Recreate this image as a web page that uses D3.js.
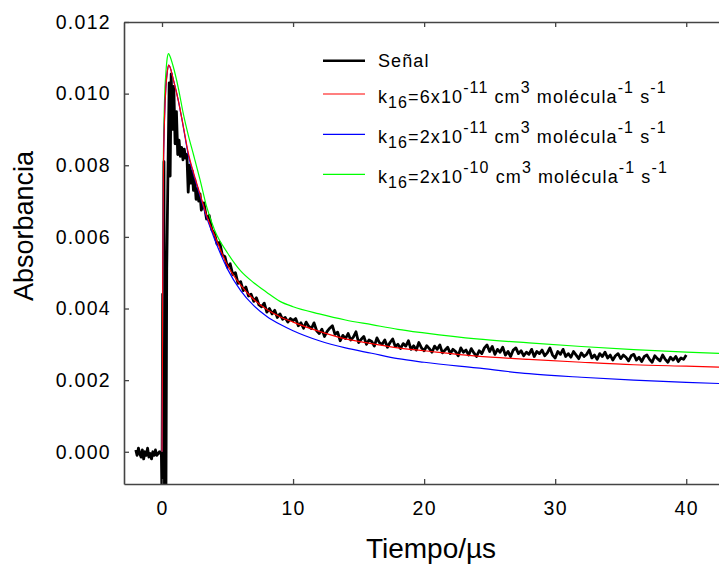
<!DOCTYPE html>
<html>
<head>
<meta charset="utf-8">
<script src="https://cdn.jsdelivr.net/npm/d3@7"></script>
<style>
  html, body { margin: 0; padding: 0; background: #fff; }
  svg { display: block; }
  text { font-family: "Liberation Sans", Arial, sans-serif; fill: #000; }
</style>
</head>
<body>
<svg id="chart" width="719" height="565"></svg>
<script>
// ---------- DATA (absorbance in units of 10^-3) ----------
const xTicks = [0, 10, 20, 30, 40];
const yTicks = [0, 2, 4, 6, 8, 10, 12];
const yTickLabels = ["0.000", "0.002", "0.004", "0.006", "0.008", "0.010", "0.012"];

// measured signal: [time/us, absorbance x1000]
const signal = [
  [-2.0,0.05],[-1.9,-0.1],[-1.8,0.1],[-1.7,-0.05],[-1.6,-0.15],[-1.5,0.05],[-1.4,-0.2],[-1.3,0.0],[-1.2,-0.1],[-1.1,0.1],
  [-1.0,-0.15],[-0.9,-0.05],[-0.8,-0.2],[-0.7,0.0],[-0.6,-0.1],[-0.5,0.05],[-0.4,-0.1],[-0.3,-0.05],[-0.2,0.0],[-0.1,-0.05],
  [-0.05,0.0],[0.0,-1.3],[0.05,4.4],[0.1,-1.2],[0.15,8.1],[0.2,-1.3],[0.25,1.7],[0.3,-1.3],[0.36,5.1],[0.45,7.7],[0.55,10.3],[0.62,7.7],[0.7,10.55],
  [0.8,9.0],[0.9,10.2],[1.0,8.6],[1.1,9.5],[1.2,8.3],[1.3,8.7],[1.4,8.25],[1.5,8.5],[1.6,8.15],[1.7,8.45],
  [1.8,8.2],[1.9,8.3],[2.0,7.25],[2.1,8.0],[2.2,7.5],[2.3,7.85],[2.4,7.3],[2.5,7.6],[2.6,7.05],[2.7,7.35],
  [2.8,7.0],[2.9,7.2],[3.0,6.75],[3.2,6.95],[3.4,6.5],[3.6,6.6],[3.8,6.2],
  [4.0,6.1],[4.2,5.8],[4.4,5.85],[4.6,5.5],[4.8,5.45],
  [5.0,5.15],[5.2,5.25],[5.4,4.95],[5.6,5.0],[5.8,4.7],
  [6.0,4.75],[6.2,4.5],[6.4,4.6],[6.6,4.35],[6.8,4.4],
  [7.0,4.2],[7.2,4.3],[7.4,4.1],[7.6,4.05],[7.8,4.15],
  [8.0,3.9],[8.2,4.0],[8.4,3.85],[8.6,3.95],[8.8,3.75],
  [9.0,3.85],[9.2,3.7],[9.4,3.75],[9.6,3.62],[9.8,3.72],
  [10.0,3.66],[10.2,3.72],[10.4,3.52],[10.6,3.6],[10.8,3.45],
  [11.0,3.62],[11.2,3.5],[11.4,3.44],[11.6,3.6],[11.8,3.38],
  [12.0,3.3],[12.2,3.42],[12.4,3.22],[12.6,3.36],[12.8,3.45],
  [13.0,3.52],[13.2,3.28],[13.4,3.34],[13.6,3.1],[13.8,3.25],
  [14.0,3.16],[14.2,3.3],[14.4,3.12],[14.6,3.2],[14.8,3.35],
  [15.0,3.05],[15.2,3.14],[15.4,3.22],[15.6,3.0],[15.8,3.12],
  [16.0,3.08],[16.2,2.95],[16.4,3.18],[16.6,3.04],[16.8,3.0],
  [17.0,3.12],[17.2,2.92],[17.4,3.05],[17.6,3.15],[17.8,2.94],
  [18.0,3.0],[18.2,2.88],[18.4,3.02],[18.6,2.95],[18.8,3.1],
  [19.0,2.86],[19.2,2.96],[19.4,2.84],[19.6,3.05],[19.8,2.9],
  [20.0,2.82],[20.2,2.96],[20.4,2.88],[20.6,2.78],[20.8,2.95],
  [21.0,2.86],[21.2,2.98],[21.4,2.76],[21.6,2.84],[21.8,2.92],
  [22.0,2.74],[22.2,2.86],[22.4,2.8],[22.6,2.68],[22.8,2.9],
  [23.0,2.78],[23.2,2.84],[23.4,2.7],[23.6,2.88],[23.8,2.76],
  [24.0,2.66],[24.2,2.82],[24.4,2.74],[24.6,2.9],[24.8,2.98],
  [25.0,2.8],[25.2,2.94],[25.4,2.72],[25.6,2.86],[25.8,2.78],
  [26.0,2.92],[26.2,2.7],[26.4,2.8],[26.6,2.66],[26.8,2.84],
  [27.0,2.9],[27.2,2.74],[27.4,2.82],[27.6,2.68],[27.8,2.78],
  [28.0,2.72],[28.2,2.86],[28.4,2.66],[28.6,2.8],[28.8,2.74],
  [29.0,2.84],[29.2,2.68],[29.4,2.76],[29.6,2.9],[29.8,2.7],
  [30.0,2.62],[30.2,2.8],[30.4,2.72],[30.6,2.86],[30.8,2.66],
  [31.0,2.74],[31.2,2.64],[31.4,2.8],[31.6,2.7],[31.8,2.6],
  [32.0,2.76],[32.2,2.66],[32.4,2.72],[32.6,2.84],[32.8,2.62],
  [33.0,2.7],[33.2,2.58],[33.4,2.74],[33.6,2.66],[33.8,2.78],
  [34.0,2.62],[34.2,2.7],[34.4,2.56],[34.6,2.68],[34.8,2.74],
  [35.0,2.6],[35.2,2.7],[35.4,2.64],[35.6,2.54],[35.8,2.68],
  [36.0,2.72],[36.2,2.56],[36.4,2.64],[36.6,2.52],[36.8,2.66],
  [37.0,2.7],[37.2,2.58],[37.4,2.5],[37.6,2.68],[37.8,2.6],
  [38.0,2.54],[38.2,2.7],[38.4,2.58],[38.6,2.5],[38.8,2.64],
  [39.0,2.56],[39.2,2.66],[39.4,2.52],[39.6,2.62],[39.8,2.58],
  [40.0,2.7]
];

// simulated curves
const modelTime = [0,0.05,0.1,0.2,0.3,0.4,0.5,0.6,0.86,1.25,1.62,2.0,2.4,2.9,3.4,4,5,6,7,8,9,10,12,14,16,18,20,24,28,32,36,40,43];
const modelK6e11 = [0,4.3,7.6,9.4,10.2,10.6,10.8,10.75,10.4,9.8,9.1,8.35,7.8,7.2,6.6,6.05,5.2,4.65,4.25,3.97,3.77,3.62,3.36,3.15,3.02,2.9,2.82,2.67,2.58,2.5,2.43,2.39,2.36];
const modelK2e11 = [0,4.3,7.6,9.4,10.2,10.6,10.8,10.75,10.4,9.8,9.08,8.3,7.75,7.15,6.55,5.95,5.1,4.5,4.08,3.78,3.56,3.38,3.1,2.9,2.75,2.6,2.5,2.34,2.18,2.08,2.0,1.94,1.9];
const modelK2e10 = [0,4.6,8.0,9.9,10.6,11.0,11.12,11.05,10.75,10.15,9.45,8.85,8.3,7.6,6.85,6.2,5.55,5.05,4.72,4.45,4.2,4.05,3.85,3.68,3.55,3.42,3.32,3.15,3.04,2.94,2.85,2.78,2.74];

const legendLabels = [
  [{t:"Señal"}],
  [{t:"k"},{t:"16",k:"sub"},{t:"=6x10"},{t:"-11",k:"sup"},{t:" cm"},{t:"3",k:"sup"},{t:" molécula"},{t:"-1",k:"sup"},{t:" s"},{t:"-1",k:"sup"}],
  [{t:"k"},{t:"16",k:"sub"},{t:"=2x10"},{t:"-11",k:"sup"},{t:" cm"},{t:"3",k:"sup"},{t:" molécula"},{t:"-1",k:"sup"},{t:" s"},{t:"-1",k:"sup"}],
  [{t:"k"},{t:"16",k:"sub"},{t:"=2x10"},{t:"-10",k:"sup"},{t:" cm"},{t:"3",k:"sup"},{t:" molécula"},{t:"-1",k:"sup"},{t:" s"},{t:"-1",k:"sup"}]
];

// ---------- CHART ----------
const svg = d3.select("#chart");
const L = 124, R = 719, T = 22, B = 484;
const x = d3.scaleLinear().domain([-2.9, 42.5]).range([L, R]);
const y = d3.scaleLinear().domain([-0.9, 12]).range([B, T]);
const axisColor = "#444";

svg.append("defs").append("clipPath").attr("id", "plotclip")
  .append("rect").attr("x", L).attr("y", T).attr("width", R - L).attr("height", B - T);

const plot = svg.append("g").attr("clip-path", "url(#plotclip)");

const sigLine = d3.line().x(d => x(d[0])).y(d => y(d[1]));
plot.append("path").datum(signal)
  .attr("d", sigLine).attr("fill", "none").attr("stroke", "#000")
  .attr("stroke-width", 2.8).attr("stroke-linejoin", "round");

const mLine = d3.line().x((d, i) => x(modelTime[i])).y(d => y(d)).curve(d3.curveMonotoneX);
const models = [
  {v: modelK2e10, c: "#00ff00"},
  {v: modelK2e11, c: "#0000ff"},
  {v: modelK6e11, c: "#ff0000"}
];
models.forEach(m => {
  plot.append("path").datum(m.v).attr("d", mLine)
    .attr("fill", "none").attr("stroke", m.c).attr("stroke-width", 1.2);
});

// axes
const fsTick = 19.5;
const gL = svg.append("g").attr("transform", `translate(${L},0)`)
  .call(d3.axisLeft(y).tickValues(yTicks).tickFormat((d, i) => yTickLabels[i])
        .tickSize(-5).tickSizeOuter(0).tickPadding(13));
const gB = svg.append("g").attr("transform", `translate(0,${B})`)
  .call(d3.axisBottom(x).tickValues(xTicks).tickFormat(d3.format("d"))
        .tickSize(-5).tickSizeOuter(0).tickPadding(17));
const gT = svg.append("g").attr("transform", `translate(0,${T})`)
  .call(d3.axisTop(x).tickValues(xTicks).tickFormat("")
        .tickSize(-5).tickSizeOuter(0));
[gL, gB, gT].forEach(g => {
  g.select(".domain").attr("stroke", axisColor).attr("stroke-width", 1.6);
  g.selectAll(".tick line").attr("stroke", axisColor).attr("stroke-width", 1.3);
  g.selectAll(".tick text").attr("font-size", fsTick)
    .attr("font-family", "Liberation Sans, Arial, sans-serif")
    .attr("fill", "#000").style("letter-spacing", "1.3px");
});

// axis titles
svg.append("text").attr("x", 431).attr("y", 558).attr("text-anchor", "middle")
  .attr("font-size", 28).text("Tiempo/µs");
svg.append("text").attr("transform", "translate(33,226) rotate(-90)")
  .attr("text-anchor", "middle").attr("font-size", 27).text("Absorbancia");

// legend
const legRows = [
  {ly: 60.7, ty: 67.3, c: "#000", w: 2.6},
  {ly: 94, ty: 103.3, c: "#ff0000", w: 1.2},
  {ly: 134.3, ty: 143.3, c: "#0000ff", w: 1.2},
  {ly: 174.3, ty: 183.3, c: "#00ff00", w: 1.2}
];
legRows.forEach((r, i) => {
  svg.append("line").attr("x1", 323).attr("x2", 365).attr("y1", r.ly).attr("y2", r.ly)
    .attr("stroke", r.c).attr("stroke-width", r.w);
  const t = svg.append("text").attr("x", 378).attr("y", r.ty)
    .attr("font-size", 18).style("white-space", "pre").style("letter-spacing", "1.1px");
  let cur = 0;
  legendLabels[i].forEach(p => {
    const target = p.k === "sup" ? -10 : p.k === "sub" ? 5 : 0;
    t.append("tspan").attr("dy", target - cur).attr("font-size", p.k ? 16 : 18).text(p.t);
    cur = target;
  });
});
</script>
</body>
</html>
